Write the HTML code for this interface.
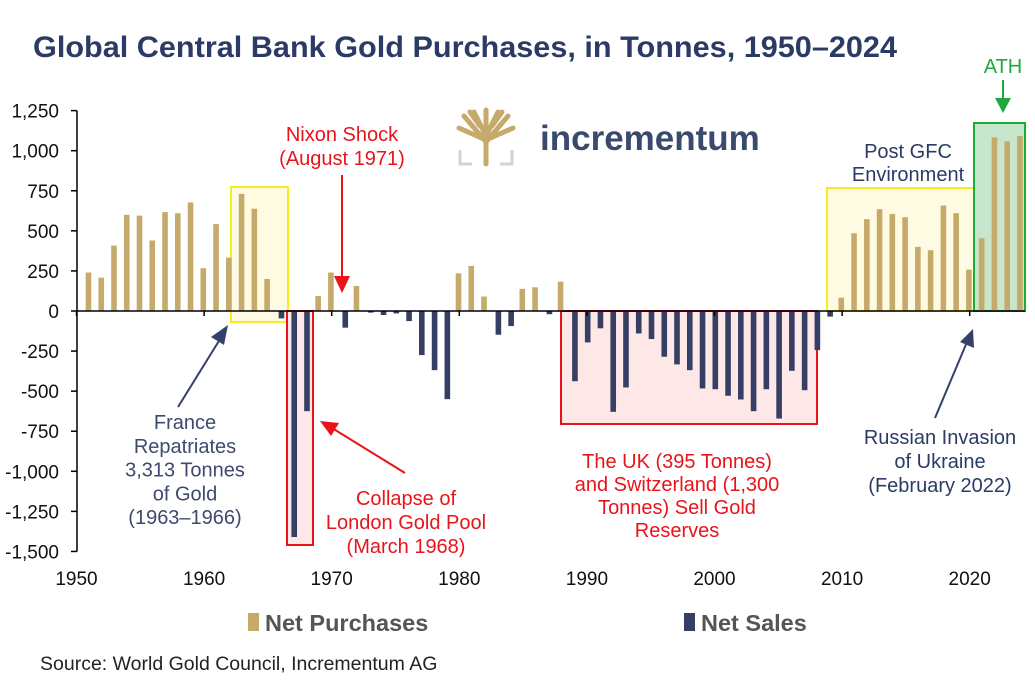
<!DOCTYPE html>
<html><head><meta charset="utf-8"><style>
body{margin:0;background:#fff;}
svg text{font-family:"Liberation Sans",Arial,sans-serif;}
</style></head><body>
<svg id="chart" width="1035" height="686" viewBox="0 0 1035 686" xmlns="http://www.w3.org/2000/svg">
<text x="33" y="57" font-size="30" font-weight="bold" fill="#2b3b66" textLength="864" lengthAdjust="spacingAndGlyphs">Global Central Bank Gold Purchases, in Tonnes, 1950–2024</text>
<g id="boxes"></g>
<g id="yaxis"></g>
<g id="bars"></g>
<g id="xaxis"></g>
<g>
<g stroke="#c6aa6b" stroke-width="5" fill="none" stroke-linecap="round">
<path d="M486 164 L486 136 M486 142 L464 116 M486 142 L508 116 M486 136 L474 112 M486 136 L498 112 M486 140 L459 128 M486 140 L513 128 M486 134 L486 110 M480 126 L470 112 M492 126 L502 112"/>
</g>
<path d="M460 150 L460 164 L472 164 M512 150 L512 164 L500 164" stroke="#d0d3da" stroke-width="3" fill="none"/>
<text x="540" y="150" font-size="35" font-weight="bold" fill="#3a4a6d">incrementum</text>
</g>
<g font-size="20" text-anchor="middle">
<text x="342" y="141" fill="#e8141a"><tspan x="342">Nixon Shock</tspan><tspan x="342" dy="24">(August 1971)</tspan></text>
<text x="185" y="429" fill="#3e4a6e"><tspan x="185">France</tspan><tspan x="185" dy="23.8">Repatriates</tspan><tspan x="185" dy="23.8">3,313 Tonnes</tspan><tspan x="185" dy="23.8">of Gold</tspan><tspan x="185" dy="23.8">(1963–1966)</tspan></text>
<text x="406" y="505" fill="#e8141a"><tspan x="406">Collapse of</tspan><tspan x="406" dy="24">London Gold Pool</tspan><tspan x="406" dy="24">(March 1968)</tspan></text>
<text x="677" y="468" fill="#e8141a"><tspan x="677">The UK (395 Tonnes)</tspan><tspan x="677" dy="23">and Switzerland (1,300</tspan><tspan x="677" dy="23">Tonnes) Sell Gold</tspan><tspan x="677" dy="23">Reserves</tspan></text>
<text x="908" y="158" fill="#2b3b66"><tspan x="908">Post GFC</tspan><tspan x="908" dy="23">Environment</tspan></text>
<text x="940" y="444" fill="#2b3b66"><tspan x="940">Russian Invasion</tspan><tspan x="940" dy="24">of Ukraine</tspan><tspan x="940" dy="24">(February 2022)</tspan></text>
<text x="1003" y="73" fill="#1fa83c">ATH</text>
</g>
<g>
<line x1="342" y1="175" x2="342" y2="278" stroke="#e8141a" stroke-width="2"/><polygon points="334,276 350,276 342,293" fill="#e8141a"/>
<line x1="178" y1="407" x2="222" y2="336" stroke="#34416a" stroke-width="2"/><polygon points="228,325 224,345 211,337" fill="#34416a"/>
<line x1="405" y1="473" x2="332" y2="428" stroke="#e8141a" stroke-width="2"/><polygon points="320,421 339,423 331,436" fill="#e8141a"/>
<line x1="935" y1="418" x2="967" y2="342" stroke="#34416a" stroke-width="2"/><polygon points="973,329 974,348 960,342" fill="#34416a"/>
<line x1="1003" y1="80" x2="1003" y2="100" stroke="#1fa83c" stroke-width="2"/><polygon points="995,98 1011,98 1003,113" fill="#1fa83c"/>
</g>
<g>
<rect x="248" y="613" width="11" height="18" fill="#c6aa6b"/>
<text x="265" y="631" font-size="23.5" font-weight="bold" fill="#555">Net Purchases</text>
<rect x="684" y="613" width="11" height="18" fill="#363e63"/>
<text x="701" y="631" font-size="23.5" font-weight="bold" fill="#555">Net Sales</text>
</g>
<text x="40" y="670" font-size="19.5" fill="#222">Source: World Gold Council, Incrementum AG</text>
</svg>
<script>
const years = [];
for (let y = 1951; y <= 2024; y++) years.push(y);
const netValues = [240,208,408,600,595,440,617,610,677,267,542,333,731,638,200,-46,-1410,-625,94,240,-104,156,-10,-25,-15,-63,-275,-369,-550,235,281,90,-148,-94,138,148,-20,183,
-438,-196,-108,-629,-477,-140,-175,-285,-333,-369,-483,-488,-529,-552,-625,-488,-671,-373,-494,-244,-35,83,485,573,635,606,585,400,379,658,610,258,454,1083,1058,1092];
const yTicks = [1250,1000,750,500,250,0,-250,-500,-750,-1000,-1250,-1500];
const xTicks = [1950,1960,1970,1980,1990,2000,2010,2020];

const NS = 'http://www.w3.org/2000/svg';
const xS = y => 76.5 + 12.76 * (y - 1950);
const yS = v => 311 - v * 0.1603;
function mk(tag, attrs, parent, txt) {
  const e = document.createElementNS(NS, tag);
  for (const k in attrs) e.setAttribute(k, attrs[k]);
  if (txt !== undefined) e.textContent = txt;
  parent.appendChild(e);
  return e;
}
const boxes = document.getElementById('boxes');
const yb1 = mk('rect', {x:231,y:187,width:57,height:135,fill:'#fffbe3',stroke:'#f5ee1e','stroke-width':2}, boxes);


const rb1 = mk('rect', {x:287,y:311,width:26,height:234,fill:'#fde7e7',stroke:'#e8141a','stroke-width':2}, boxes);


const rb2 = mk('rect', {x:561,y:311,width:256,height:113,fill:'#fde7e7',stroke:'#e8141a','stroke-width':2}, boxes);


const yb2 = mk('rect', {x:827,y:188,width:147,height:123,fill:'#fffbe3',stroke:'#f5ee1e','stroke-width':2}, boxes);


const gb = mk('rect', {x:974,y:123,width:51,height:188,fill:'#c8e6cc',stroke:'#1fa83c','stroke-width':2}, boxes);



const ya = document.getElementById('yaxis');
mk('line', {x1:77,y1:yS(1250),x2:77,y2:yS(-1500),stroke:'#000','stroke-width':1.5}, ya);
yTicks.forEach(t => {
  mk('line', {x1:71,y1:yS(t),x2:77,y2:yS(t),stroke:'#000','stroke-width':1.5}, ya);
  const lb = mk('text', {x:59,y:yS(t)+7,'font-size':19,'text-anchor':'end',fill:'#111'}, ya, t.toLocaleString('en-US'));
  
  
});
const bars = document.getElementById('bars');
years.forEach((y, i) => {
  const v = netValues[i];
  const top = Math.min(yS(v), yS(0));
  const h = Math.max(Math.abs(yS(v) - yS(0)), 1);
  const r = mk('rect', {x:xS(y) - 2.8 + (v < 0 ? 0.8 : -0.8), y:top, width:5.6, height:h, fill: v >= 0 ? '#c6aa6b' : '#363e63'}, bars);
  
  
});
const xa = document.getElementById('xaxis');
mk('line', {x1:77,y1:yS(0),x2:1025,y2:yS(0),stroke:'#000','stroke-width':1.5}, xa);
xTicks.forEach(t => {
  mk('line', {x1:xS(t),y1:yS(0),x2:xS(t),y2:yS(0)+5,stroke:'#000','stroke-width':1.5}, xa);
  const lb = mk('text', {x:xS(t),y:585,'font-size':19,'text-anchor':'middle',fill:'#111'}, xa, String(t));
  
  
});
</script>
</body></html>
